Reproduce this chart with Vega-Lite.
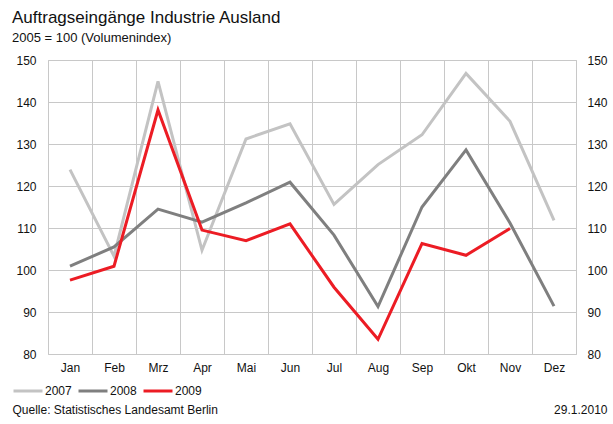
{
  "$schema": "https://vega.github.io/schema/vega-lite/v6.json",
  "width": 528,
  "height": 294,
  "autosize": "none",
  "padding": {"left": 48, "top": 60, "right": 37, "bottom": 70},
  "background": "white",
  "config": {
    "font": "Liberation Sans",
    "view": {"stroke": "#c8c8c8", "strokeWidth": 1},
    "axis": {"labelFontSize": 12, "labelColor": "#111", "titleFontSize": 12, "titleFontWeight": "normal", "titleColor": "#111", "gridColor": "#c8c8c8", "gridWidth": 1, "ticks": false, "domain": false}
  },
  "title": {
    "text": "Auftragseingänge Industrie Ausland",
    "subtitle": "2005 = 100 (Volumenindex)",
    "anchor": "start",
    "frame": "group",
    "dx": -36,
    "offset": 8,
    "fontSize": 17,
    "fontWeight": "normal",
    "color": "#111",
    "subtitleFontSize": 13,
    "subtitleColor": "#111",
    "subtitlePadding": 5
  },
  "data": {
    "values": [
      {"monat": "Jan", "jahr": "2007", "wert": 123.9},
      {"monat": "Feb", "jahr": "2007", "wert": 103.3},
      {"monat": "Mrz", "jahr": "2007", "wert": 144.9},
      {"monat": "Apr", "jahr": "2007", "wert": 104.7},
      {"monat": "Mai", "jahr": "2007", "wert": 131.2},
      {"monat": "Jun", "jahr": "2007", "wert": 134.8},
      {"monat": "Jul", "jahr": "2007", "wert": 115.6},
      {"monat": "Aug", "jahr": "2007", "wert": 125.1},
      {"monat": "Sep", "jahr": "2007", "wert": 132.2},
      {"monat": "Okt", "jahr": "2007", "wert": 146.8},
      {"monat": "Nov", "jahr": "2007", "wert": 135.4},
      {"monat": "Dez", "jahr": "2007", "wert": 111.8},
      {"monat": "Jan", "jahr": "2008", "wert": 100.9},
      {"monat": "Feb", "jahr": "2008", "wert": 105.5},
      {"monat": "Mrz", "jahr": "2008", "wert": 114.5},
      {"monat": "Apr", "jahr": "2008", "wert": 111.4},
      {"monat": "Mai", "jahr": "2008", "wert": 116.0},
      {"monat": "Jun", "jahr": "2008", "wert": 120.9},
      {"monat": "Jul", "jahr": "2008", "wert": 108.3},
      {"monat": "Aug", "jahr": "2008", "wert": 91.3},
      {"monat": "Sep", "jahr": "2008", "wert": 115.0},
      {"monat": "Okt", "jahr": "2008", "wert": 128.6},
      {"monat": "Nov", "jahr": "2008", "wert": 111.2},
      {"monat": "Dez", "jahr": "2008", "wert": 91.4},
      {"monat": "Jan", "jahr": "2009", "wert": 97.6},
      {"monat": "Feb", "jahr": "2009", "wert": 100.9},
      {"monat": "Mrz", "jahr": "2009", "wert": 138.1},
      {"monat": "Apr", "jahr": "2009", "wert": 109.5},
      {"monat": "Mai", "jahr": "2009", "wert": 107.0},
      {"monat": "Jun", "jahr": "2009", "wert": 111.0},
      {"monat": "Jul", "jahr": "2009", "wert": 95.9},
      {"monat": "Aug", "jahr": "2009", "wert": 83.5},
      {"monat": "Sep", "jahr": "2009", "wert": 106.3},
      {"monat": "Okt", "jahr": "2009", "wert": 103.5},
      {"monat": "Nov", "jahr": "2009", "wert": 109.9}
    ]
  },
  "layer": [
    {
      "mark": {"type": "line", "strokeWidth": 3, "strokeJoin": "miter"},
      "encoding": {
        "x": {
          "field": "monat", "type": "ordinal",
          "sort": ["Jan","Feb","Mrz","Apr","Mai","Jun","Jul","Aug","Sep","Okt","Nov","Dez"],
          "scale": {"type": "band", "paddingInner": 0, "paddingOuter": 0},
          "axis": {"orient": "bottom", "grid": true, "tickBand": "extent", "labelAngle": 0, "labelPadding": 8,
                   "title": "Quelle: Statistisches Landesamt Berlin", "titleX": -36, "titleY": 59, "titleAlign": "left", "titleBaseline": "alphabetic"}
        },
        "y": {
          "field": "wert", "type": "quantitative",
          "scale": {"domain": [80, 150], "nice": false, "zero": false},
          "axis": {"orient": "left", "grid": true, "values": [80,90,100,110,120,130,140,150], "labelPadding": 12, "title": null}
        },
        "color": {
          "field": "jahr", "type": "nominal",
          "scale": {"domain": ["2007","2008","2009"], "range": ["#c3c3c3", "#7f7f7f", "#ec1c24"]},
          "legend": {"orient": "none", "legendX": -36, "legendY": 315, "direction": "horizontal", "title": null,
                     "symbolType": "stroke", "symbolSize": 841, "symbolStrokeWidth": 3, "labelFontSize": 12, "labelColor": "#111",
                     "labelOffset": 1, "columnPadding": 0, "padding": 0, "offset": 0}
        }
      }
    },
    {
      "mark": {"type": "line", "strokeOpacity": 0},
      "encoding": {
        "x": {
          "field": "monat", "type": "ordinal",
          "sort": ["Jan","Feb","Mrz","Apr","Mai","Jun","Jul","Aug","Sep","Okt","Nov","Dez"],
          "axis": {"orient": "bottom", "grid": false, "labels": false, "title": "29.1.2010", "titleX": 559, "titleY": 59, "titleAlign": "right", "titleBaseline": "alphabetic"}
        },
        "y": {
          "field": "wert", "type": "quantitative",
          "axis": {"orient": "right", "grid": false, "values": [80,90,100,110,120,130,140,150], "labelPadding": 11, "title": null}
        },
        "detail": {"field": "jahr"}
      }
    }
  ],
  "resolve": {"axis": {"x": "independent", "y": "independent"}}
}
